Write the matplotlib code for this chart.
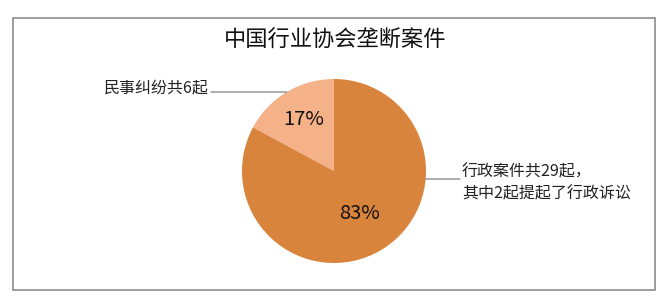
import matplotlib.pyplot as plt
import numpy as np
from matplotlib.patches import Rectangle

plt.rcParams['font.family'] = ['Noto Sans CJK SC', 'DejaVu Sans']

# 案件数量
categories = ['民事纠纷', '行政案件']
counts = [6, 29]
labels = ['民事纠纷共6起', '行政案件共29起，\n其中2起提起了行政诉讼']
colors = ['#F5B187', '#D9843C']

W, H = 669, 300
fig = plt.figure(figsize=(W / 100, H / 100), dpi=100)

# 外框
fig.patches.append(Rectangle((13 / W, 10 / H), 642 / W, 272 / H, transform=fig.transFigure,
                             fill=False, edgecolor='#8c8c8c', linewidth=1.2))

fig.text(335 / W, 1 - 40 / H, '中国行业协会垄断案件', ha='center', va='center',
         fontsize=16, color='#111111')

# 饼图区域：圆心 (334, 171)，半径 92 像素
cx, cy, r = 334, 171, 92
ax = fig.add_axes([(cx - r) / W, 1 - (cy + r) / H, 2 * r / W, 2 * r / H])
wedges, _, autotexts = ax.pie(counts, colors=colors, startangle=90, counterclock=True,
                              autopct='%1.0f%%', pctdistance=0.65,
                              wedgeprops=dict(linewidth=0),
                              textprops=dict(fontsize=14.5, color='#111111'))
# 大扇区的百分比稍微靠近圆心
px, py = autotexts[1].get_position()
autotexts[1].set_position((px * 0.82, py * 0.82))
ax.set_xlim(-1, 1)
ax.set_ylim(-1, 1)
ax.set_aspect('equal')
ax.axis('off')

# 左侧标注及引线（水平线接到饼的边缘）
fig.text(209 / W, 1 - 88 / H, labels[0], ha='right', va='center',
         fontsize=11.5, color='#222222')
ly = 92
ey = (cy - ly) / r
ex = -np.sqrt(1 - ey ** 2)
ax.annotate('', xy=(ex, ey), xycoords='data',
            xytext=(211 / W, 1 - ly / H), textcoords='figure fraction',
            arrowprops=dict(arrowstyle='-', color='#8c8c8c', lw=1,
                            shrinkA=0, shrinkB=0),
            annotation_clip=False)

# 右侧标注及引线
fig.text(462 / W, 1 - 183 / H, labels[1], ha='left', va='center',
         fontsize=11.5, color='#222222', linespacing=1.45)
ry = 179
ey2 = (cy - ry) / r
ax.annotate('', xy=(np.sqrt(1 - ey2 ** 2), ey2), xycoords='data',
            xytext=(460 / W, 1 - ry / H), textcoords='figure fraction',
            arrowprops=dict(arrowstyle='-', color='#8c8c8c', lw=1,
                            shrinkA=0, shrinkB=0),
            annotation_clip=False)

fig.savefig('out.png', dpi=100)
